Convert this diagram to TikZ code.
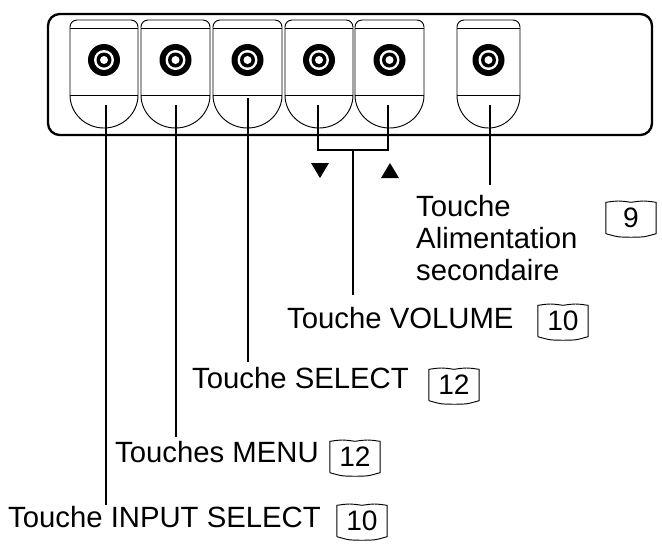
\documentclass[tikz,border=0pt]{standalone}
\usepackage{fontspec}
\setmainfont{Liberation Sans}
\usetikzlibrary{positioning,calc}
\tikzset{
  lead/.style={line width=1.7pt},
  lbl/.style={font=\fontsize{25}{27}\selectfont, inner sep=0pt},
  bookref/.style={font=\fontsize{24}{26}\selectfont, draw, line width=0.8pt,
    minimum width=42pt, minimum height=26pt, inner sep=1pt},
}
% book icon: framed number with a wavy lower edge
\newcommand{\bookmark}[3]{%
  \node[bookref, draw=none] (#1) at (#2) {#3};
  \draw[line width=0.8pt] (#1.south west) -- (#1.north west)
    .. controls ($(#1.north west)!0.25!(#1.north east)+(0,1.5pt)$) .. ($(#1.north)$)
    .. controls ($(#1.north west)!0.75!(#1.north east)+(0,1.5pt)$) .. (#1.north east)
    -- (#1.south east)
    .. controls ($(#1.south east)!0.25!(#1.south west)+(0,-3pt)$) .. ($(#1.south)+(0,-3pt)$)
    .. controls ($(#1.south east)!0.75!(#1.south west)+(0,-3pt)$) .. (#1.south west);
}
\begin{document}
\begin{tikzpicture}[x=0.03cm, y=-0.03cm]
  \useasboundingbox (0,0) rectangle (662,546);

  % panel
  \draw[line width=2pt, rounded corners=10] (652,14) -- (48,14) -- (48,135) -- (652,135) -- cycle;

  % buttons
  \foreach \xa/\xb/\n in {70/138/1, 141/210/2, 213/282/3, 285/353/4, 355/424/5, 457/520/6} {
      \draw[line width=0.8pt, rounded corners=6] (\xa,95) -- (\xa,20) -- (\xb,20) -- (\xb,95);
      \draw[line width=0.8pt] (\xa,28) -- (\xb,28);
      \draw[line width=0.8pt] (\xa,95) -- (\xb,95);
      \draw[line width=0.8pt] (\xa,95) arc[start angle=180, end angle=0, x radius={(\xb-\xa)/2}, y radius=33];
      \coordinate (b\n) at ({(\xa+\xb)/2},60);
      \fill (b\n) circle (16);
      \fill[white] (b\n) circle (10);
      \fill (b\n) circle (7.5);
      \fill[white] (b\n) circle (4);
  }

  % labels
  \node[lbl, anchor=west] (input) at (8,517) {Touche INPUT SELECT};
  \bookmark{inputref}{362,521}{10}
  \node[lbl, anchor=west] (menu) at (115,452) {Touches MENU};
  \bookmark{menuref}{355,457}{12}
  \node[lbl, anchor=west] (select) at (192,378) {Touche SELECT};
  \bookmark{selectref}{454,385}{12}
  \node[lbl, anchor=west] (volume) at (287,318) {Touche VOLUME};
  \bookmark{volumeref}{563,321}{10}
  \node[lbl, anchor=west, align=left] (power) at (416,238) {Touche\\Alimentation\\secondaire};
  \bookmark{powerref}{631,218}{9}

  % leads
  \draw[lead] (106,105) -- (106,505);
  \draw[lead] (176,105) -- (176,437);
  \draw[lead] (248,98) -- (248,362);
  \draw[lead] (318,105) -- (318,150) -- (388,150) -- (388,105);
  \coordinate (vol) at (353,150);
  \draw[lead] (vol) -- (353,295);
  \draw[lead] (490,105) -- (490,185);

  % arrows
  \fill (311,163) -- (329,163) -- (320,178) -- cycle;
  \fill (381,178) -- (399,178) -- (390,163) -- cycle;
\end{tikzpicture}
\end{document}
